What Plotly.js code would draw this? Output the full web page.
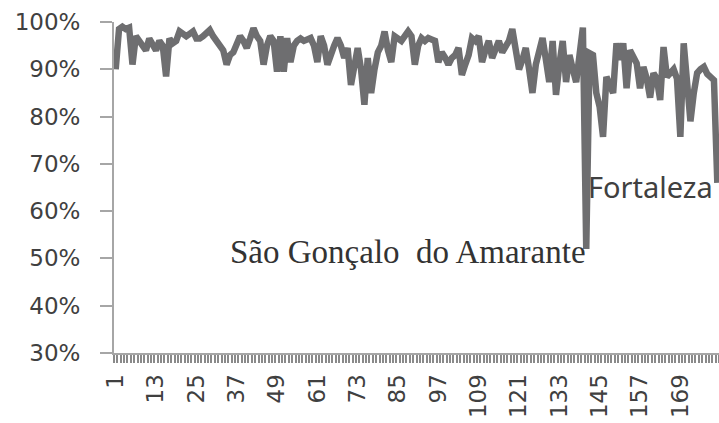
<!DOCTYPE html>
<html>
<head>
<meta charset="utf-8">
<script src="https://cdn.plot.ly/plotly-3.0.1.min.js"></script>
<style>html,body{margin:0;padding:0;background:#fff;}#chart{width:719px;height:423px;}</style>
</head>
<body>
<div id="chart"></div>
<script>
const values = [
90,98.5,99,98.5,98.8,91,97,96,95.5,94,
96.5,95.5,94,96,95,88.5,96.5,95.5,96,98,
97.5,97,97.5,98,96.5,96.5,97,97.5,98.3,97,
96,95,94,91,93,93.6,95.5,97,96,94.5,
96.5,98.7,97,96,91,95,97,96,89.5,97,
89.5,96.6,91.5,95,96,96.5,96,96.3,96.6,95,
91.5,97,95,91,93.6,95,96.6,95,92.4,94.5,
86.7,91,94.5,90,82.5,92.4,85,90,93.6,95,
98,94,91.5,97,96.5,96,97,98,97,91,
95,96.6,96,96.6,96.3,96,91.5,93.6,92.5,91,
92.4,93,94.5,88.8,91,93,96.6,96,97,91.5,
94,96,92.4,94,96,93.6,95,96,98.5,94,
90,92,94.5,90,85,91,94.5,96.6,92,87.3,
96,84.6,91,96,87.3,93,90,87.3,93,98.8,
52,93.4,93,85,82,75.7,88.4,87,85,95.5,
92,95.5,86,94,92.5,91.3,86,90.5,88,84,
89.2,88,83.5,94.7,88.4,89.2,90,88,75.7,95.5,
85,79,85,89.2,90,90.5,89,88.4,87.7,66
];
const tickPositions = [1,13,25,37,49,61,73,85,97,109,121,133,145,157,169];
const tickLabels = ['1','13','25','37','49','61','73','85','97','109','121','133','145','157','169'];
const categories = values.map((v,i)=>i+1);

const trace = {
  x: categories, y: values, type:'scatter', mode:'lines',
  line:{color:'#6e6e70', width:6.5, shape:'linear'},
  hoverinfo:'skip', cliponaxis:false
};
const layout = {
  width:719, height:423,
  margin:{l:114, r:0, t:22, b:70, pad:0},
  paper_bgcolor:'#fff', plot_bgcolor:'#fff',
  showlegend:false,
  font:{family:'DejaVu Sans, sans-serif', size:23, color:'#404040'},
  xaxis:{
    range:[0.5, values.length+0.5], showgrid:false, zeroline:false,
    showline:true, linecolor:'#a6a6a6', linewidth:2,
    tickmode:'array', tickvals:tickPositions, ticktext:tickLabels,
    tickangle:-90, ticks:'', ticklabelstandoff:10,
    tickfont:{family:'DejaVu Sans, sans-serif', size:23, color:'#404040'},
    minor:{tickmode:'linear', tick0:0.5, dtick:1, ticks:'outside', ticklen:8, tickwidth:2, tickcolor:'#8a8a8a'}
  },
  yaxis:{
    range:[30,100], dtick:10, tick0:30, ticksuffix:'%',
    showgrid:false, zeroline:false,
    showline:true, linecolor:'#a6a6a6', linewidth:2,
    ticks:'outside', ticklen:12, tickwidth:2, tickcolor:'#a6a6a6', ticklabelstandoff:15,
    tickfont:{family:'DejaVu Sans, sans-serif', size:23, color:'#404040'}
  },
  annotations:[
    {x:141.5, y:51.4, xref:'x', yref:'y', xanchor:'right', yanchor:'middle', showarrow:false,
     text:'São Gonçalo&nbsp; do Amarante', font:{family:'Liberation Serif, serif', size:33, color:'#333'}},
    {x:141.0, y:65.3, xref:'x', yref:'y', xanchor:'left', yanchor:'middle', showarrow:false,
     text:'Fortaleza', font:{family:'Noto Sans, sans-serif', size:29, color:'#404040'}}
  ]
};
Plotly.newPlot('chart',[trace],layout,{staticPlot:true, displayModeBar:false});
</script>
</body>
</html>
